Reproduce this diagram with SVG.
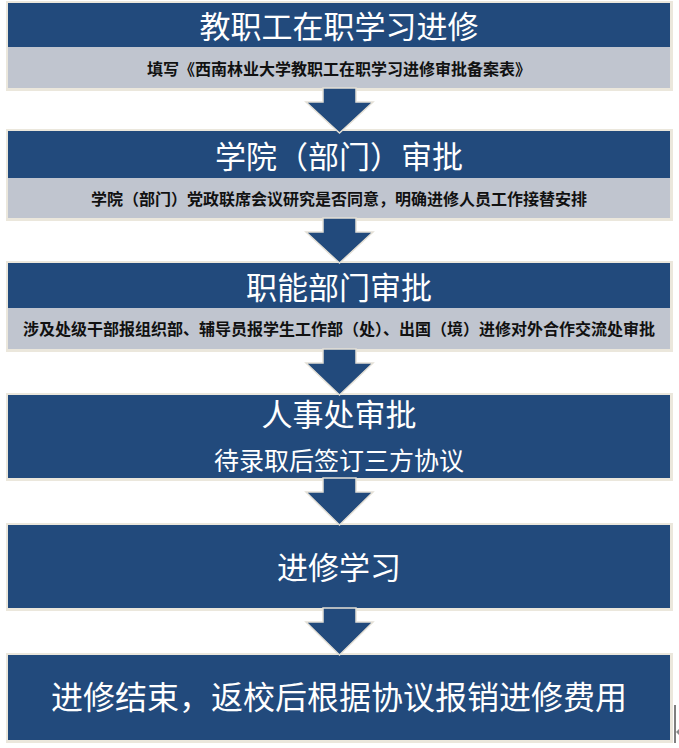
<svg xmlns="http://www.w3.org/2000/svg" width="679" height="748" viewBox="0 0 679 748">
<style>
.halo{fill:#ebe7dc}
.dark{fill:#224a7c}
.grey{fill:#c0c5cf}
.arrow{fill:#224a7c;stroke:#e4e0d6;stroke-width:1.5}
.t{font-family:"Noto Sans CJK SC","Noto Sans",sans-serif;fill:#ffffff;text-anchor:middle;dominant-baseline:central}
.s{font-family:"Noto Sans CJK SC","Noto Sans",sans-serif;fill:#111111;text-anchor:middle;dominant-baseline:central;font-weight:bold}
</style>
<rect width="679" height="748" fill="#ffffff"/>
<g id="node1">
<rect class="halo" x="6" y="1" width="667" height="90"/>
<rect class="dark" x="8" y="3" width="662" height="44"/>
<rect class="grey" x="8" y="47" width="662" height="41"/>
<text class="t" x="339" y="24" font-size="31">教职工在职学习进修</text>
<text class="s" x="339" y="68" font-size="16">填写《西南林业大学教职工在职学习进修审批备案表》</text>
</g>
<g id="node2">
<rect class="halo" x="6" y="129" width="667" height="92"/>
<rect class="dark" x="8" y="131" width="662" height="47"/>
<rect class="grey" x="8" y="178" width="662" height="40"/>
<text class="t" x="339" y="154" font-size="31">学院（部门）审批</text>
<text class="s" x="339" y="198" font-size="16">学院（部门）党政联席会议研究是否同意，明确进修人员工作接替安排</text>
</g>
<g id="node3">
<rect class="halo" x="6" y="261" width="667" height="91"/>
<rect class="dark" x="8" y="263" width="662" height="45"/>
<rect class="grey" x="8" y="308" width="662" height="41"/>
<text class="t" x="339" y="285" font-size="31">职能部门审批</text>
<text class="s" x="339" y="328" font-size="16">涉及处级干部报组织部、辅导员报学生工作部（处）、出国（境）进修对外合作交流处审批</text>
</g>
<g id="node4">
<rect class="halo" x="6" y="393" width="667" height="88"/>
<rect class="dark" x="8" y="395" width="662" height="83"/>
<text class="t" x="339" y="412" font-size="31">人事处审批</text>
<text class="t" x="339" y="459" font-size="25">待录取后签订三方协议</text>
</g>
<g id="node5">
<rect class="halo" x="6" y="523" width="667" height="88"/>
<rect class="dark" x="8" y="525" width="662" height="83"/>
<text class="t" x="339" y="565" font-size="31">进修学习</text>
</g>
<g id="node6">
<rect class="halo" x="6" y="653" width="667" height="90"/>
<rect class="dark" x="8" y="655" width="662" height="85"/>
<text class="t" x="339" y="695" font-size="32">进修结束，返校后根据协议报销进修费用</text>
</g>
<g id="connectors">
<polygon class="arrow" points="323,88 356,88 356,102 373,102 339.5,133 306,102 323,102"/>
<polygon class="arrow" points="323,218 356,218 356,232 373,232 339.5,263 306,232 323,232"/>
<polygon class="arrow" points="323,349 356,349 356,363 373,363 339.5,395 306,363 323,363"/>
<polygon class="arrow" points="323,478 356,478 356,492 373,492 339.5,525 306,492 323,492"/>
<polygon class="arrow" points="323,608 356,608 356,622 373,622 339.5,655 306,622 323,622"/>
</g>
<line x1="675" y1="705" x2="675" y2="743" stroke="#000000" stroke-width="1"/>
<polygon points="676,732 679,729 679,735" fill="#888888"/>
</svg>
